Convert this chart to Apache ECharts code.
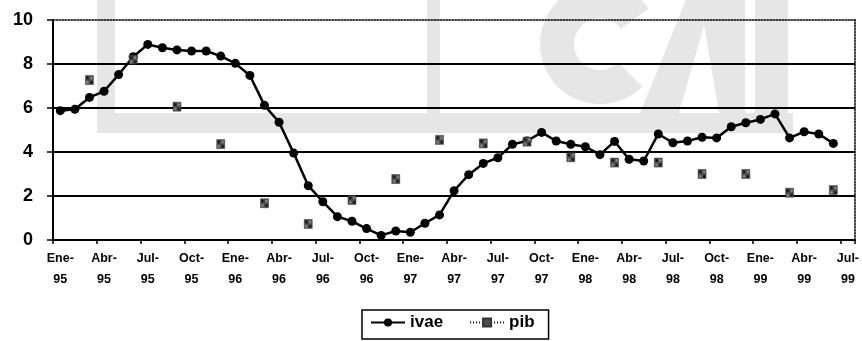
<!DOCTYPE html>
<html>
<head>
<meta charset="utf-8">
<script src="https://cdn.jsdelivr.net/npm/echarts@6/dist/echarts.min.js"></script>
<style>
  html, body { margin: 0; padding: 0; background: #fff; }
  #chart { width: 862px; height: 341px; }
</style>
</head>
<body>
<div id="chart"></div>
<script>
// Monthly categories, Ene-95 .. Jul-99
var categories = [
  'Ene-95','Feb-95','Mar-95','Abr-95','May-95','Jun-95','Jul-95','Ago-95','Sep-95','Oct-95','Nov-95','Dic-95',
  'Ene-96','Feb-96','Mar-96','Abr-96','May-96','Jun-96','Jul-96','Ago-96','Sep-96','Oct-96','Nov-96','Dic-96',
  'Ene-97','Feb-97','Mar-97','Abr-97','May-97','Jun-97','Jul-97','Ago-97','Sep-97','Oct-97','Nov-97','Dic-97',
  'Ene-98','Feb-98','Mar-98','Abr-98','May-98','Jun-98','Jul-98','Ago-98','Sep-98','Oct-98','Nov-98','Dic-98',
  'Ene-99','Feb-99','Mar-99','Abr-99','May-99','Jun-99','Jul-99'
];

// ivae, monthly
var ivae = [
  5.88, 5.94, 6.48, 6.76, 7.52, 8.33, 8.89, 8.74, 8.64, 8.59, 8.59, 8.36,
  8.03, 7.48, 6.12, 5.35, 3.95, 2.47, 1.74, 1.06, 0.85, 0.52, 0.21, 0.41,
  0.35, 0.76, 1.14, 2.24, 2.97, 3.48, 3.74, 4.35, 4.50, 4.89, 4.50, 4.35,
  4.24, 3.88, 4.48, 3.67, 3.59, 4.82, 4.42, 4.50, 4.67, 4.64, 5.15, 5.33,
  5.48, 5.73, 4.64, 4.92, 4.82, 4.39, null
];

// pib, quarterly (placed on Mar, Jun, Sep, Dic)
var pib = [
  null, null, 7.27, null, null, 8.20, null, null, 6.06, null, null, 4.36,
  null, null, 1.67, null, null, 0.73, null, null, 1.82, null, null, 2.77,
  null, null, 4.55, null, null, 4.39, null, null, 4.47, null, null, 3.76,
  null, null, 3.52, null, null, 3.52, null, null, 3.00, null, null, 3.00,
  null, null, 2.15, null, null, 2.27, null
];

var yTicks = { min: 0, max: 10, interval: 2 };

var FONT = '"Liberation Sans", Arial, sans-serif';

// hatched pattern for pib markers
var pat = document.createElement('canvas');
pat.width = 2; pat.height = 2;
var pc = pat.getContext('2d');
pc.fillStyle = '#9a9a9a'; pc.fillRect(0, 0, 2, 2);
pc.fillStyle = '#000'; pc.fillRect(0, 0, 1, 1); pc.fillRect(1, 1, 1, 1);

var WM = '#e6e6e6';
var chart = echarts.init(document.getElementById('chart'), null, { renderer: 'canvas' });
chart.setOption({
  animation: false,
  backgroundColor: '#fff',
  textStyle: { fontFamily: FONT },
  graphic: [
    { type: 'rect', z: -10, silent: true, shape: { x: 97, y: 0, width: 18, height: 133 }, style: { fill: WM } },
    { type: 'rect', z: -10, silent: true, shape: { x: 115, y: 113, width: 678, height: 20 }, style: { fill: WM } },
    { type: 'rect', z: -10, silent: true, shape: { x: 427, y: 0, width: 13, height: 113 }, style: { fill: WM } },
    { type: 'sector', z: -10, silent: true, shape: { cx: 600, cy: 44, r: 60, r0: 26, startAngle: Math.PI * 0.25, endAngle: Math.PI * 1.8, clockwise: true }, style: { fill: WM } },
    { type: 'polygon', z: -10, silent: true, shape: { points: [[640, 113], [686, 0], [745, 0], [745, 113]] }, style: { fill: WM } },
    { type: 'polygon', z: -9, silent: true, shape: { points: [[679, 113], [704, 25], [719, 113]] }, style: { fill: '#fff' } },
    { type: 'rect', z: -10, silent: true, shape: { x: 755, y: 0, width: 33, height: 113 }, style: { fill: WM } }
  ],
  grid: { left: 53, right: 4, top: 20, bottom: 101, containLabel: false },
  legend: {
    left: 362, top: 310,
    orient: 'horizontal',
    itemWidth: 34, itemHeight: 10, itemGap: 26,
    padding: [4, 14, 8, 8],
    borderColor: '#000', borderWidth: 1.5,
    textStyle: { fontFamily: FONT, fontWeight: 'bold', fontSize: 17, color: '#000' },
    data: ['ivae', 'pib']
  },
  xAxis: [
    {
      type: 'category',
      data: categories,
      boundaryGap: true,
      axisLine: { lineStyle: { color: '#000', width: 2 } },
      axisTick: { show: true, interval: 2, length: 4, lineStyle: { color: '#000', width: 1.5 } },
      axisLabel: {
        interval: 2,
        margin: 8,
        fontFamily: FONT, fontWeight: 'bold', fontSize: 12.5, color: '#000', lineHeight: 21,
        formatter: function (v) { return v.replace('-', '-\n'); }
      },
      splitLine: { show: false }
    },
    {
      type: 'category',
      position: 'top',
      data: categories,
      axisLine: { show: true, onZero: false, lineStyle: { color: '#000', width: 1.5, type: [1.5, 1.5] } },
      axisTick: { show: false }, axisLabel: { show: false }, splitLine: { show: false }
    }
  ],
  yAxis: [
    {
      type: 'value',
      min: yTicks.min, max: yTicks.max, interval: yTicks.interval,
      axisLine: { show: true, lineStyle: { color: '#000', width: 2 } },
      axisTick: { show: true, length: 6, lineStyle: { color: '#000', width: 1.5 } },
      axisLabel: { margin: 20, fontFamily: FONT, fontWeight: 'bold', fontSize: 18, color: '#000' },
      splitLine: { show: true, lineStyle: { color: ['#000', '#000', '#000', '#000', '#000', 'rgba(0,0,0,0)'], width: 2 } }
    },
    {
      type: 'value',
      position: 'right',
      min: yTicks.min, max: yTicks.max, interval: yTicks.interval,
      axisLine: { show: true, onZero: false, lineStyle: { color: '#000', width: 1.5, type: [1.5, 1.5] } },
      axisTick: { show: false }, axisLabel: { show: false }, splitLine: { show: false }
    }
  ],
  series: [
    {
      name: 'ivae',
      type: 'line',
      data: ivae,
      symbol: 'circle',
      symbolSize: 9,
      showSymbol: true,
      showAllSymbol: true,
      itemStyle: { color: '#000' },
      lineStyle: { color: '#000', width: 2.5 },
      z: 3
    },
    {
      name: 'pib',
      type: 'line',
      data: pib,
      connectNulls: false,
      symbol: 'rect',
      symbolSize: [8, 9],
      showSymbol: true,
      showAllSymbol: true,
      itemStyle: { color: { image: pat, repeat: 'repeat' }, borderColor: '#333', borderWidth: 0.5 },
      lineStyle: { color: '#000', width: 1, type: [1, 2] },
      z: 4
    }
  ]
});
</script>
</body>
</html>
